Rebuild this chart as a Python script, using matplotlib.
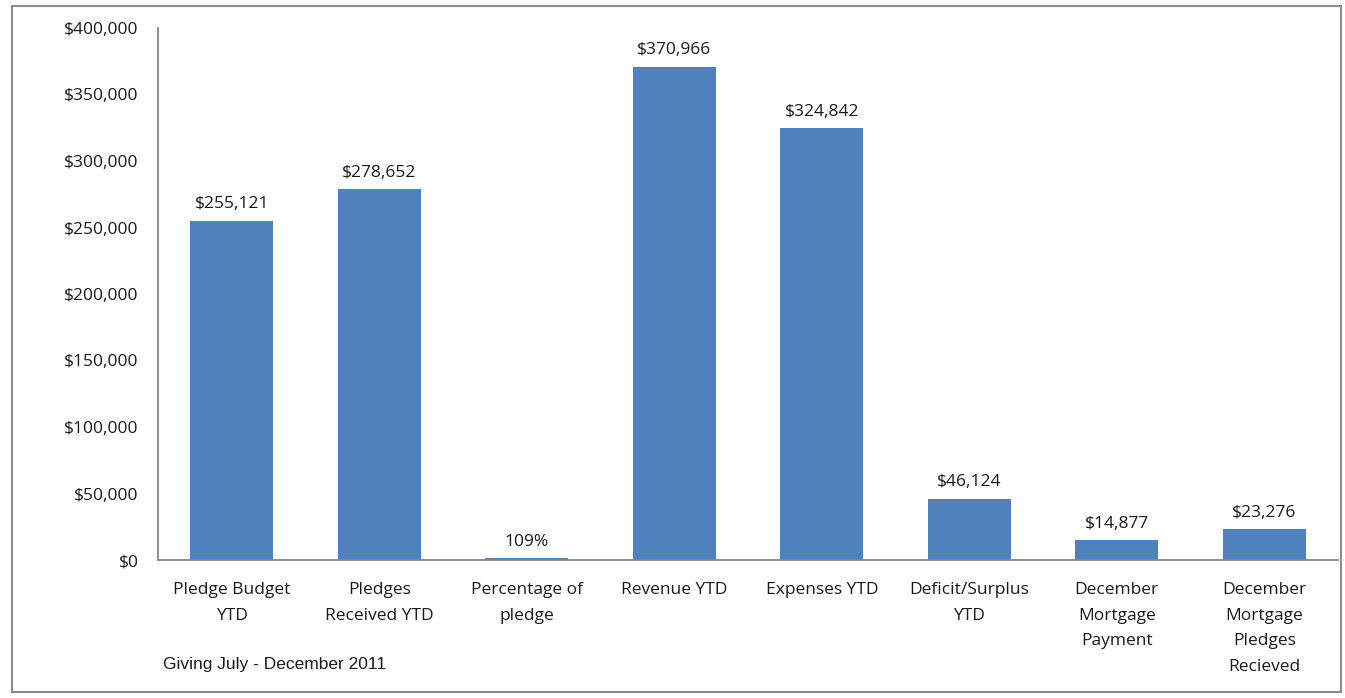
import matplotlib
matplotlib.use("Agg")
import matplotlib.pyplot as plt
from matplotlib.patches import Rectangle
from matplotlib.ticker import FuncFormatter

# 数据
categories = ["Pledge Budget\nYTD", "Pledges\nReceived YTD", "Percentage of\npledge",
              "Revenue YTD", "Expenses YTD", "Deficit/Surplus\nYTD",
              "December\nMortgage\nPayment", "December\nMortgage\nPledges\nRecieved"]
values = [255121, 278652, 1500, 370966, 324842, 46124, 14877, 23276]
value_labels = ["$255,121", "$278,652", "109%", "$370,966", "$324,842",
                "$46,124", "$14,877", "$23,276"]
y_ticks = [0, 50000, 100000, 150000, 200000, 250000, 300000, 350000, 400000]

bar_color = "#4F81BD"
axis_color = "#868686"
text_color = "#1a1a1a"

plt.rcParams["font.family"] = ["Open Sans", "DejaVu Sans"]

fig = plt.figure(figsize=(13.45, 6.98), dpi=100)
ax = fig.add_axes([158 / 1345, 1 - 560 / 698, 1180 / 1345, 532 / 698])

x = range(len(categories))
ax.bar(x, values, width=0.565, color=bar_color)

# 数值标签
for xi, v, lab in zip(x, values, value_labels):
    ax.annotate(lab, (xi, v), xytext=(0, 6), textcoords="offset points",
                ha="center", va="bottom", fontsize=12.5, color=text_color)

ax.set_xlim(-0.5, len(categories) - 0.5)
ax.set_ylim(0, 400000)
ax.set_yticks(y_ticks)
ax.yaxis.set_major_formatter(FuncFormatter(lambda v, p: "${:,.0f}".format(v)))
ax.set_xticks(list(x))
ax.set_xticklabels(categories, linespacing=1.8)

ax.tick_params(axis="y", length=0, pad=14, labelsize=12.5, labelcolor=text_color)
ax.tick_params(axis="x", length=0, pad=16, labelsize=12.5, labelcolor=text_color)

for s in ["top", "right"]:
    ax.spines[s].set_visible(False)
for s in ["left", "bottom"]:
    ax.spines[s].set_color(axis_color)
    ax.spines[s].set_linewidth(1.3)

# 外框
fig.patches.append(Rectangle((12 / 1345, 6 / 698), 1329 / 1345, 686 / 698,
                             transform=fig.transFigure, fill=False,
                             edgecolor="#8c8c8c", linewidth=1.5))

fig.text(163 / 1345, 1 - 664 / 698, "Giving July - December 2011",
         family=["Liberation Sans", "DejaVu Sans"], fontsize=12.5,
         color=text_color, va="center", ha="left")

fig.savefig("out.png", dpi=100)
